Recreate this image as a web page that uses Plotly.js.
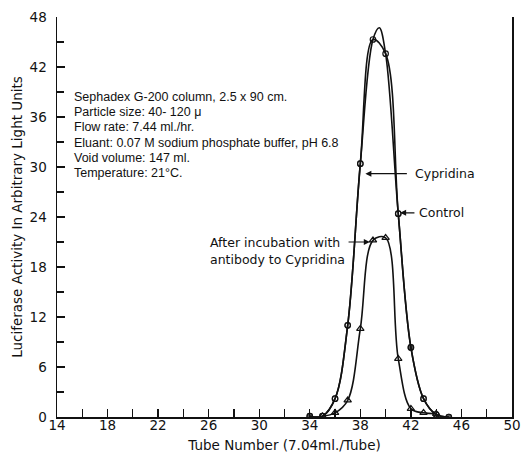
<!DOCTYPE html>
<html><head><meta charset="utf-8">
<script src="https://cdn.plot.ly/plotly-3.0.1.min.js"></script>
<style>html,body{margin:0;padding:0;background:#fff}#chart{width:522px;height:458px}</style>
</head><body><div id="chart"></div>
<script>
// Data
const tubes = [34, 35, 36, 37, 38, 39, 40, 41, 42, 43, 44, 45];
const cypridina = [0.1, 0.1, 2.2, 11.0, 30.4, 45.3, 43.6, 24.4, 8.35, 2.2, 0.3, 0.0];
const controlTubes = [34, 35, 36, 37, 38, 39, 39.5, 40, 41, 42, 43, 44, 45];
const control = [0.1, 0.1, 2.2, 11.0, 30.4, 45.3, 46.7, 43.6, 24.4, 8.35, 2.2, 0.3, 0.0];
const tubesAb = [35, 36, 37, 38, 39, 40, 41, 42, 43, 44];
const antibody = [0.1, 0.5, 2.0, 10.6, 21.2, 21.5, 7.0, 1.0, 0.5, 0.4];
const xTicks = [14, 18, 22, 26, 30, 34, 38, 42, 46, 50];
const yTicks = [0, 6, 12, 18, 24, 30, 36, 42, 48];
const notes = [
  "Sephadex G-200 column, 2.5 x 90 cm.",
  "Particle size: 40- 120 \u03bc",
  "Flow rate: 7.44 ml./hr.",
  "Eluant: 0.07 M sodium phosphate buffer, pH 6.8",
  "Void volume: 147 ml.",
  "Temperature: 21\u00b0C."
];

const black = '#111';
const traces = [
  {x: controlTubes, y: control, mode: 'lines+markers', name: 'Control',
   line: {color: black, width: 1.6, shape: 'spline', smoothing: 1},
   marker: {symbol: controlTubes.map(t => (t === 34 || t === 42 || t === 45) ? 'circle' : 'circle-open'),
            size: controlTubes.map(t => (t >= 39 && t <= 40) ? 0 : 5.5), color: black, line: {width: 1.2, color: black}}},
  {x: tubes, y: cypridina, mode: 'lines+markers', name: 'Cypridina',
   line: {color: black, width: 1.6, shape: 'spline', smoothing: 1},
   marker: {symbol: 'circle-open', size: 5.5, color: black, line: {width: 1.2, color: black}}},
  {x: tubesAb, y: antibody, mode: 'lines+markers', name: 'After incubation with antibody to Cypridina',
   line: {color: black, width: 1.6, shape: 'spline', smoothing: 1},
   marker: {symbol: 'triangle-up-open', size: 6.5, color: black, line: {width: 1.2, color: black}}}
];

const annotations = [];
notes.forEach((t, i) => {
  annotations.push({xref: 'paper', yref: 'paper', x: 0.032, y: 1 - (80 + i * 15.2) / 400,
    xanchor: 'left', yanchor: 'middle', text: t, showarrow: false,
    font: {family: 'Liberation Sans', size: 12.5, color: black}});
});
const arrow = {showarrow: true, arrowhead: 2, arrowsize: 1, arrowwidth: 1.2, arrowcolor: black,
  text: '', axref: 'x', ayref: 'y', standoff: 0, startstandoff: 0};
annotations.push(Object.assign({}, arrow, {x: 38.4, y: 29.2, ax: 41.8, ay: 29.2}));
annotations.push(Object.assign({}, arrow, {x: 41.15, y: 24.5, ax: 42.4, ay: 24.5}));
annotations.push(Object.assign({}, arrow, {x: 38.75, y: 21.0, ax: 36.95, ay: 21.0}));
const lbl = {showarrow: false, xanchor: 'left', yanchor: 'middle', font: {family: 'DejaVu Sans', size: 12.5, color: black}};
annotations.push(Object.assign({}, lbl, {x: 42.15, y: 29.2, text: 'Cypridina'}));
annotations.push(Object.assign({}, lbl, {x: 42.5, y: 24.5, text: 'Control'}));
annotations.push(Object.assign({}, lbl, {x: 25.95, y: 21.0, text: 'After incubation with'}));
annotations.push(Object.assign({}, lbl, {x: 25.95, y: 18.9, text: 'antibody to Cypridina'}));

const layout = {
  width: 522, height: 458,
  margin: {l: 57, r: 10, t: 17, b: 41},
  paper_bgcolor: '#fff', plot_bgcolor: '#fff',
  showlegend: false,
  font: {family: 'DejaVu Sans', color: black},
  xaxis: {range: [14, 50], tickvals: xTicks, ticktext: xTicks.map(String), ticks: 'inside', ticklen: 8,
    tickwidth: 1.3, tickcolor: black, showgrid: false, zeroline: false, showline: true, linewidth: 1.5,
    linecolor: black, tickfont: {size: 13.5}, ticklabelstandoff: -5,
    minor: {dtick: 2, ticks: 'inside', ticklen: 8, tickwidth: 1.3, tickcolor: black, showgrid: false},
    title: {text: 'Tube Number (7.04ml./Tube)', font: {size: 13.5}, standoff: 9}},
  yaxis: {range: [0, 48], tickvals: yTicks, ticktext: yTicks.map(String), ticks: 'inside', ticklen: 8,
    tickwidth: 1.3, tickcolor: black, showgrid: false, zeroline: false, showline: true, linewidth: 1.5,
    linecolor: black, mirror: true, tickfont: {size: 13.5}, ticklabelstandoff: 6,
    minor: {dtick: 3, ticks: 'inside', ticklen: 7, tickwidth: 1.3, tickcolor: black, showgrid: false},
    title: {text: 'Luciferase Activity In Arbitrary Light Units', font: {size: 13.5}, standoff: 4}},
  annotations: annotations
};
Plotly.newPlot('chart', traces, layout, {staticPlot: true, displayModeBar: false});
</script></body></html>
